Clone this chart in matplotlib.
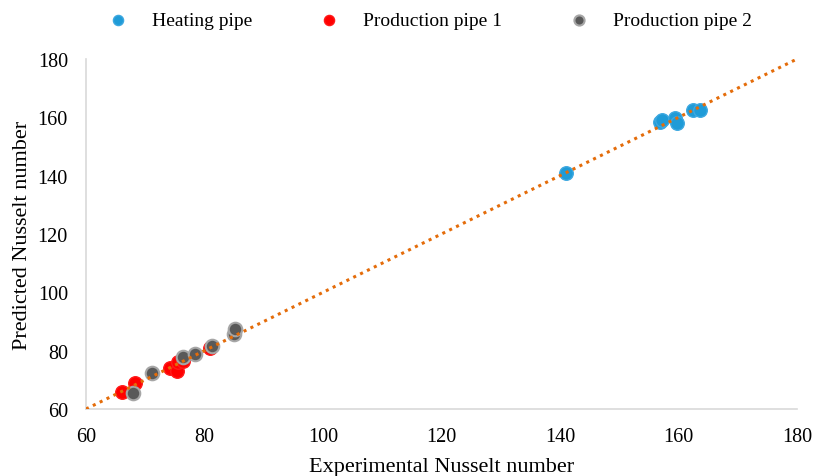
import matplotlib.pyplot as plt
import numpy as np

plt.rcParams['font.family'] = ['Liberation Serif', 'DejaVu Serif']

heat_exp = [141.0, 156.8, 157.3, 159.4, 159.7, 162.5, 163.6]
heat_pred = [140.9, 158.3, 159.2, 159.8, 158.0, 162.6, 162.6]

prod1_exp = [66.0, 68.3, 74.1, 75.4, 75.6, 76.4, 81.0]
prod1_pred = [65.9, 69.0, 74.0, 73.0, 76.2, 76.6, 80.8]

prod2_exp = [67.9, 71.1, 76.3, 78.4, 81.2, 85.0, 85.1]
prod2_pred = [65.4, 72.2, 77.7, 78.9, 81.7, 85.7, 87.4]

line_x = [60, 180]

fig = plt.figure(figsize=(8.13, 4.77), dpi=100)
ax = fig.add_axes([0.1058, 0.1405, 0.8745, 0.7337])

ax.plot(line_x, line_x, linestyle=(0, (1, 1.5)), color='#E46C0A', linewidth=2.2, zorder=3)

ax.scatter(heat_exp, heat_pred, s=95, color='#1F9BD7', edgecolors='#3DA8E0',
           linewidths=1, label='Heating pipe', zorder=2)
ax.scatter(prod1_exp, prod1_pred, s=95, color='#FF0000', edgecolors='#FF1A1A',
           linewidths=1, label='Production pipe 1', zorder=2)
ax.scatter(prod2_exp, prod2_pred, s=95, color='#595959', edgecolors='#A6A6A6',
           linewidths=1.5, label='Production pipe 2', zorder=2)

ax.set_xlim(60, 180)
ax.set_ylim(60, 180)
ax.set_xticks(np.arange(60, 181, 20))
ax.set_yticks(np.arange(60, 181, 20))
ax.tick_params(length=0, labelsize=14.5)
ax.tick_params(axis='x', pad=13)
ax.tick_params(axis='y', pad=13)
for s in ['top', 'right']:
    ax.spines[s].set_visible(False)
for s in ['left', 'bottom']:
    ax.spines[s].set_color('#D9D9D9')
    ax.spines[s].set_linewidth(1.2)

ax.set_xlabel('Experimental Nusselt number', fontsize=16, labelpad=8)
ax.set_ylabel('Predicted Nusselt number', fontsize=16, labelpad=4)

fig.legend(loc='upper center', bbox_to_anchor=(0.523, 1.01), ncol=3, frameon=False,
           fontsize=14, markerscale=0.75, handletextpad=0.75, columnspacing=2.95)

fig.savefig('out.png', dpi=100)
